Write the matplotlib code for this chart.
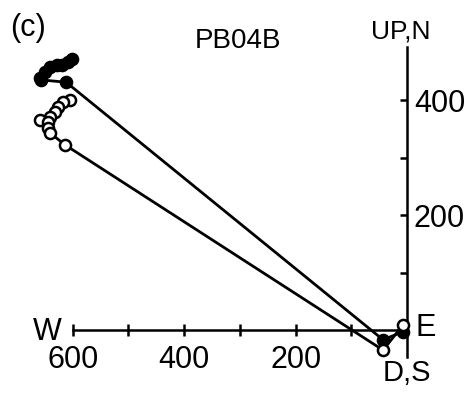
import matplotlib
matplotlib.use('Agg')
import matplotlib.pyplot as plt

plt.rcParams['font.family'] = ['Liberation Sans', 'DejaVu Sans']

# horizontal projection (filled): West component vs North component
west_h = [601, 609, 619, 628, 641, 650, 659, 657, 612, 43, 7]
north_h = [471, 466, 461, 461, 457, 449, 438, 435, 431, -17, -3]

# vertical projection (open): West component vs Up component
west_v = [605, 618, 627, 632, 641, 659, 645, 645, 641, 614, 43, 7]
up_v = [400, 397, 388, 379, 370, 365, 362, 351, 343, 322, -35, 9]

x_ticks = [100, 200, 300, 400, 500, 600]
x_labels = ['', '200', '', '400', '', '600']
y_ticks = [100, 200, 300, 400]
y_labels = ['', '200', '', '400']

W, H = 473, 393
fig = plt.figure(figsize=(W / 100, H / 100), dpi=100)
ax = fig.add_axes([0, 0, 1, 1])

ax.plot(west_h, north_h, color='black', lw=2, marker='o', ms=8,
        mfc='black', mec='black', mew=1.8, zorder=3)
ax.plot(west_v, up_v, color='black', lw=2, marker='o', ms=8,
        mfc='white', mec='black', mew=1.8, zorder=3)

ax.set_xlim(730.7, -118.5)
ax.set_ylim(-109.6, 574)

ax.spines['top'].set_visible(False)
ax.spines['left'].set_visible(False)
ax.spines['bottom'].set_position(('data', 0))
ax.spines['bottom'].set_bounds(0, 600)
ax.spines['right'].set_position(('data', 0))
ax.spines['right'].set_bounds(-47, 492)
for s in ['bottom', 'right']:
    ax.spines[s].set_linewidth(1.8)

ax.xaxis.set_ticks_position('bottom')
ax.set_xticks(x_ticks)
ax.set_xticklabels(x_labels)
ax.tick_params(axis='x', direction='inout', length=8, width=1.8,
               pad=7, labelsize=22)

ax.yaxis.set_ticks_position('right')
ax.set_yticks(y_ticks)
ax.set_yticklabels(y_labels)
ax.tick_params(axis='y', direction='in', length=5, width=1.8,
               pad=5, labelsize=22)

def px(x, y):
    return x / W, 1 - y / H

fig.text(*px(10, 28), '(c)', fontsize=22, ha='left', va='center')
fig.text(*px(238, 41), 'PB04B', fontsize=20, ha='center', va='center')
fig.text(*px(401, 31), 'UP,N', fontsize=19, ha='center', va='center')
fig.text(*px(47, 332), 'W', fontsize=22, ha='center', va='center')
fig.text(*px(426, 328), 'E', fontsize=22, ha='center', va='center')
fig.text(*px(407, 373), 'D,S', fontsize=21, ha='center', va='center')

fig.savefig('out.png', dpi=100)
